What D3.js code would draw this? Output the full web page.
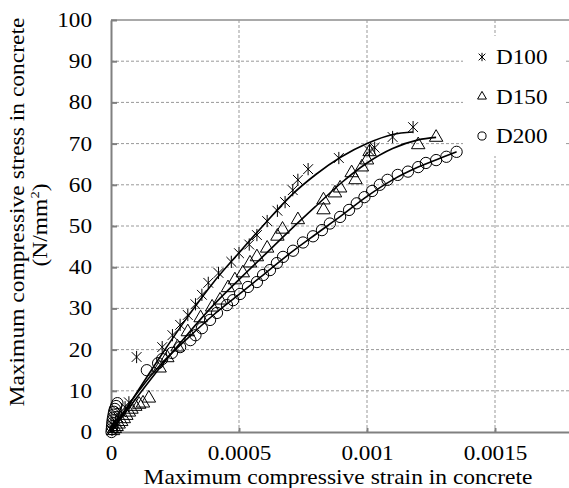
<!DOCTYPE html>
<html>
<head>
<meta charset="utf-8">
<script src="https://cdn.jsdelivr.net/npm/d3@7"></script>
<style>
body { margin: 0; background: #fff; }
text { font-family: 'Liberation Serif', 'Times New Roman', serif; fill: #000; }
</style>
</head>
<body>
<svg id='chart'></svg>
<script>
// ---- data ----
var seriesNames = ['D100', 'D150', 'D200'];
var xTicks = [0, 0.0005, 0.001, 0.0015];
var xTickLabels = ['0', '0.0005', '0.001', '0.0015'];
var yTicks = [0, 10, 20, 30, 40, 50, 60, 70, 80, 90, 100];

// measured points [strain, stress]
var d100Points = [
	[0.000004, 0.5], [0.00001, 1.5], [0.000018, 2.5], [0.000028, 3.6], [0.00004, 4.8], [0.000055, 6],
	[0.00007, 7.2], [0.0001, 18.2], [0.0002, 20.6], [0.00024, 23.5], [0.00027, 26], [0.0003, 28.4],
	[0.00033, 31], [0.000355, 33.3], [0.00038, 36.2], [0.00042, 38.6], [0.00047, 41.3], [0.0005, 43.4],
	[0.00054, 45.5], [0.00057, 47.8], [0.00061, 51.2], [0.00065, 53.7], [0.00068, 55.8], [0.00071, 58.7],
	[0.00073, 61.2], [0.00077, 63.8], [0.00089, 66.5], [0.00101, 68.2], [0.00103, 69], [0.0011, 71.6],
	[0.00118, 74]
];
var d150Points = [
	[0.000008, 0.3], [0.000015, 0.8], [0.000022, 1.3], [0.00003, 1.9], [0.00004, 2.5], [0.00005, 3.2],
	[0.00006, 4], [0.00007, 4.8], [0.00008, 5.5], [0.000095, 6.2], [0.00011, 6.7], [0.000125, 7],
	[0.000148, 8.2], [0.00019, 15.5], [0.00022, 18], [0.00026, 20.6], [0.0003, 24.3], [0.00035, 27.7],
	[0.000395, 30.3], [0.000426, 32], [0.000457, 35], [0.000484, 36.9], [0.000515, 38.6], [0.000543, 41],
	[0.00057, 42.5], [0.00061, 44.6], [0.00065, 47.5], [0.00067, 49.2], [0.00073, 51.5], [0.00083, 53.9],
	[0.00083, 56.3], [0.000875, 58], [0.000895, 59.2], [0.00094, 62.9], [0.000955, 61.2], [0.00098, 64.3],
	[0.001, 66], [0.00101, 68], [0.0012, 69.7], [0.00127, 71.5]
];
var d200Points = [
	[0.000002, 0], [0.000003, 0.7], [0.000004, 1.4], [0.000005, 2.1], [0.000006, 2.8], [0.000008, 3.5],
	[0.00001, 4.2], [0.000012, 4.9], [0.000015, 5.6], [0.00002, 6.3], [0.000025, 7], [0.00014, 15],
	[0.000184, 16.7], [0.0002, 17.7], [0.000238, 19.2], [0.00027, 20.6], [0.00031, 22.3], [0.00033, 23.5],
	[0.000355, 25.2], [0.000387, 27.2], [0.000414, 28.9], [0.000453, 30.8], [0.000477, 32], [0.000504, 33.5],
	[0.000535, 35.2], [0.00057, 36.4], [0.000594, 38.1], [0.000621, 39.3], [0.000648, 41], [0.000672, 42.5],
	[0.000711, 44], [0.00075, 46], [0.000789, 47.5], [0.000824, 49], [0.000855, 50.6], [0.000895, 52.2],
	[0.00093, 53.9], [0.00096, 55.5], [0.00099, 57], [0.00102, 58.5], [0.00105, 60], [0.00108, 61.2],
	[0.00112, 62.4], [0.00116, 63.2], [0.0012, 64.3], [0.00123, 65.3], [0.00127, 66], [0.00131, 66.8],
	[0.00135, 68]
];

// fitted curves [strain, stress]
var d100Fit = [
	[0, 0], [0.0001, 9.5], [0.0002, 19], [0.0003, 28], [0.0004, 36.3], [0.0005, 43.5], [0.0006, 50.5],
	[0.0007, 57.2], [0.0008, 62.5], [0.0009, 66.8], [0.001, 70], [0.0011, 72.2], [0.00118, 72.8]
];
var d150Fit = [
	[0, 0], [0.0001, 8.3], [0.0002, 16.3], [0.0003, 23.8], [0.0004, 30.8], [0.0005, 37], [0.0006, 43],
	[0.0007, 49], [0.0008, 54.8], [0.0009, 60.5], [0.001, 65.3], [0.0011, 68.8], [0.0012, 70.9], [0.00127, 71.5]
];
var d200Fit = [
	[0, 0], [0.0001, 9.3], [0.0002, 16.8], [0.0003, 22.8], [0.0004, 28.4], [0.0005, 33.4], [0.0006, 38.4],
	[0.0007, 43.4], [0.0008, 48], [0.0009, 52.5], [0.001, 57.2], [0.0011, 61.2], [0.0012, 64.3],
	[0.0013, 66.8], [0.00135, 68]
];

// ---- layout ----
var dims = {
	width: 569,
	height: 488,
	left: 111,
	top: 20,
	bottom: 432,
	textScale: 1.16,
	titleScale: 1.12
};

var svg = d3.select('#chart').attr('width', dims.width).attr('height', dims.height);

var x = d3.scaleLinear().domain([0, 0.0018]).range([dims.left, dims.left + 0.0018 / 0.0005 * 128]);
var y = d3.scaleLinear().domain([0, 100]).range([dims.bottom, dims.top]);

// grid
var grid = svg.append('g');
grid.selectAll('line.h')
	.data(yTicks.slice(1))
	.enter().append('line')
		.attr('x1', dims.left).attr('x2', dims.width)
		.attr('y1', d => y(d)).attr('y2', d => y(d))
		.attr('stroke', d => d == 100 ? '#555' : '#999')
		.attr('stroke-width', 1)
		.attr('stroke-dasharray', d => d == 100 ? null : '3,2');
grid.selectAll('line.v')
	.data(xTicks.slice(1))
	.enter().append('line')
		.attr('x1', d => x(d)).attr('x2', d => x(d))
		.attr('y1', dims.top).attr('y2', dims.bottom)
		.attr('stroke', '#999')
		.attr('stroke-dasharray', '3,2');

// axes
var yAxis = svg.append('g')
	.attr('transform', 'translate(' + dims.left + ',0)')
	.call(d3.axisLeft(y).tickValues(yTicks).tickSizeInner(-6).tickSizeOuter(0));
var xAxis = svg.append('g')
	.attr('transform', 'translate(0,' + dims.bottom + ')')
	.call(d3.axisBottom(x).tickValues(xTicks).tickFormat((d, i) => xTickLabels[i]).tickSizeInner(-4).tickSizeOuter(0));

[yAxis, xAxis].forEach(function(a) {
	a.select('.domain').attr('stroke', '#808080').attr('stroke-width', 2);
	a.selectAll('.tick line').attr('stroke', '#808080').attr('stroke-width', 2);
	a.selectAll('.tick text').attr('font-size', 20).attr('font-family', null);
});
yAxis.select('.tick line').remove();
xAxis.select('.tick line').remove();

yAxis.selectAll('.tick text')
	.attr('x', 0)
	.attr('transform', 'translate(-19,0) scale(' + dims.textScale + ',1)');
xAxis.selectAll('.tick text')
	.attr('y', 0)
	.attr('dy', null)
	.attr('transform', 'translate(0,28) scale(' + dims.textScale + ',1)');

// axis titles
svg.append('text')
	.attr('text-anchor', 'middle')
	.attr('font-size', 21)
	.attr('transform', 'translate(338,484) scale(' + dims.titleScale + ',1)')
	.text('Maximum compressive strain in concrete');

svg.append('text')
	.attr('text-anchor', 'middle')
	.attr('font-size', 21)
	.attr('transform', 'translate(24,212) rotate(-90) scale(' + dims.titleScale + ',1)')
	.text('Maximum compressive stress in concrete');

var unit = svg.append('text')
	.attr('text-anchor', 'middle')
	.attr('font-size', 21)
	.attr('transform', 'translate(47,225) rotate(-90) scale(' + dims.titleScale + ',1)');
unit.append('tspan').text('(N/mm');
unit.append('tspan').attr('font-size', 13).attr('dy', -8).text('2');
unit.append('tspan').attr('dy', 8).text(')');

// fitted curves
var line = d3.line().x(d => x(d[0])).y(d => y(d[1])).curve(d3.curveMonotoneX);
var fits = [d100Fit, d150Fit, d200Fit];
svg.append('g').selectAll('path')
	.data(fits)
	.enter().append('path')
		.attr('d', line)
		.attr('fill', 'none')
		.attr('stroke', '#000')
		.attr('stroke-width', 1.6);

// excel style star: vertical bar plus an X
var symbolStar = {
	draw: function(ctx, size) {
		var h = Math.sqrt(size) / 2;
		var d = h * 0.8;
		ctx.moveTo(0, -h); ctx.lineTo(0, h);
		ctx.moveTo(-d, -d); ctx.lineTo(d, d);
		ctx.moveTo(-d, d); ctx.lineTo(d, -d);
	}
};

// markers
var symbols = [symbolStar, d3.symbolTriangle, d3.symbolCircle];
var symbolSize = [150, 78, 100];
var legendSize = [70, 34, 52];
var series = [d100Points, d150Points, d200Points];

series.forEach(function(pts, i) {
	svg.append('g').selectAll('path')
		.data(pts)
		.enter().append('path')
			.attr('transform', d => 'translate(' + x(d[0]) + ',' + y(d[1]) + ')')
			.attr('d', d3.symbol().type(symbols[i]).size(symbolSize[i]))
			.attr('fill', 'none')
			.attr('stroke', '#000')
			.attr('stroke-width', 1);
});

// legend
var legend = svg.append('g');
legend.append('rect')
	.attr('x', 463).attr('y', 36)
	.attr('width', 102).attr('height', 120)
	.attr('fill', '#fff');

var legendY = d3.scalePoint().domain(seriesNames).range([57, 136]);
seriesNames.forEach(function(name, i) {
	var item = legend.append('g').attr('transform', 'translate(482,' + legendY(name) + ')');
	item.append('path')
		.attr('d', d3.symbol().type(symbols[i]).size(legendSize[i]))
		.attr('fill', 'none')
		.attr('stroke', '#000');
	item.append('text')
		.attr('font-size', 20)
		.attr('dy', '0.35em')
		.attr('transform', 'translate(14,0) scale(' + dims.textScale + ',1)')
		.text(name);
});
</script>
</body>
</html>
